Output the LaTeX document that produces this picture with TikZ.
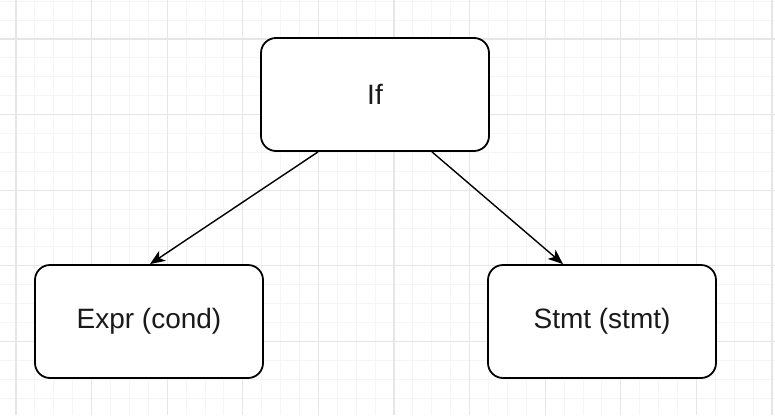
\documentclass[tikz,border=0pt]{standalone}
\usepackage{fontspec}
\setmainfont{Liberation Sans}
\usetikzlibrary{calc,arrows.meta}
\definecolor{minorgrid}{HTML}{F5F5F5}
\definecolor{majorgrid}{HTML}{E6E6E6}
\definecolor{txt}{HTML}{1A1A1A}
\tikzset{
  box/.style={draw=black, line width=1.8pt, rounded corners=15pt, minimum width=228pt, minimum height=113pt, fill=white, inner sep=0pt, text=txt, font=\fontsize{28}{32}\selectfont},
  conn/.style={draw=black, line width=1.4pt, -{Stealth[length=15pt,width=12pt,inset=4pt]}},
}
\begin{document}
\begin{tikzpicture}[x=1pt,y=-1pt]
\useasboundingbox (0,0) rectangle (775,415);
\fill[white] (0,0) rectangle (775,415);
% minor grid
\foreach \k in {-1,...,41} {
  \draw[minorgrid, line width=1pt] ({16+18.9*\k},0) -- ({16+18.9*\k},415);
}
\foreach \k in {-3,...,21} {
  \draw[minorgrid, line width=1pt] (0,{39+18.9*\k}) -- (775,{39+18.9*\k});
}
% major grid
\foreach \k in {0,...,10} {
  \draw[majorgrid, line width=1.2pt] ({16+75.6*\k},0) -- ({16+75.6*\k},415);
}
\foreach \k in {0,...,4} {
  \draw[majorgrid, line width=1.2pt] (0,{39+75.6*\k}) -- (775,{39+75.6*\k});
}
\node[box] (if) at (375,94.5) {If};
\node[box] (expr) at (149,321.5) {Expr (cond)};
\node[box] (stmt) at (602,321.5) {Stmt (stmt)};
\draw[conn] ($(if.south)+(-57,0)$) -- ($(expr.north)+(1,0)$);
\draw[conn] ($(if.south)+(57,0)$) -- ($(stmt.north)+(-39,0)$);
\end{tikzpicture}
\end{document}
